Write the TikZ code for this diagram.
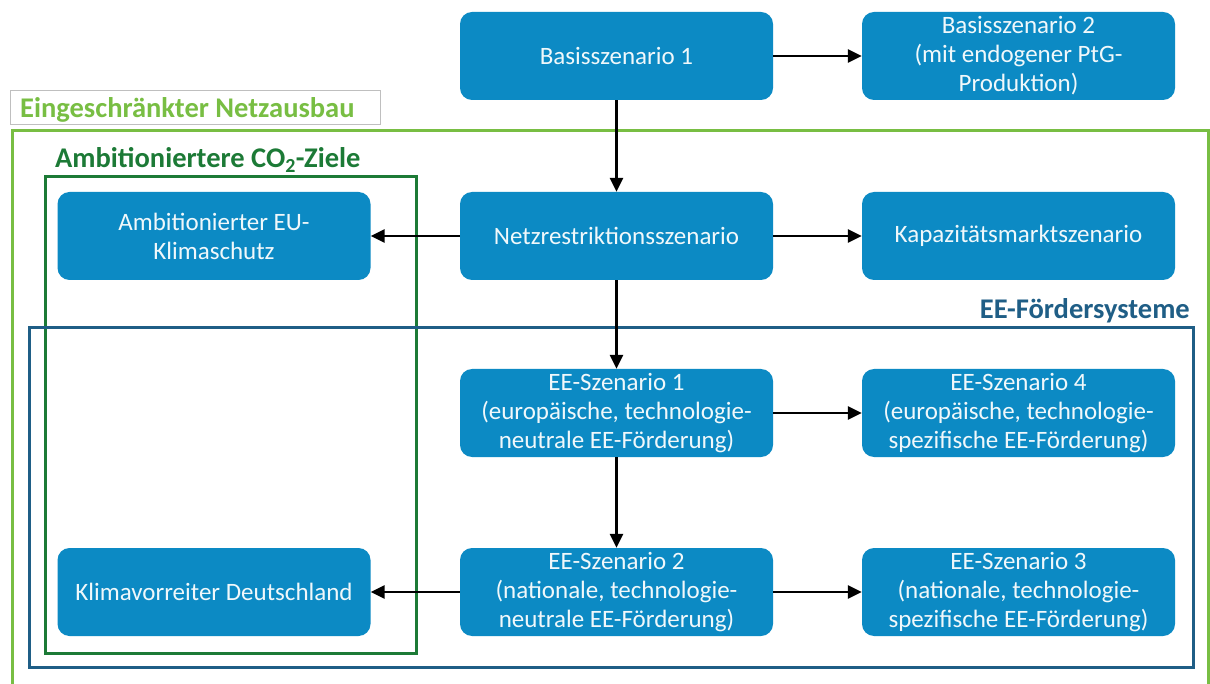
\documentclass[tikz,border=0pt]{standalone}
\usepackage{fontspec}
\setmainfont{Carlito}
\usetikzlibrary{arrows.meta}
\definecolor{boxblue}{RGB}{12,138,196}
\definecolor{frameblue}{RGB}{31,94,134}
\definecolor{darkgreen}{RGB}{28,122,54}
\definecolor{lightgreen}{RGB}{120,190,67}
\tikzset{
  szenario/.style={draw=none, fill=boxblue, rounded corners=12pt, text=white!94!boxblue,
    minimum width=313pt, minimum height=88pt, align=center,
    font=\fontsize{25}{29}\selectfont},
  pfeil/.style={-{Triangle[length=14pt,width=13pt]}, line width=2.5pt, black},
  rahmen/.style={line width=3pt},
  titel/.style={font=\fontsize{28.5}{32}\selectfont\bfseries, inner sep=0pt}
}
\begin{document}
\begin{tikzpicture}[x=1pt, y=-1pt]
\useasboundingbox (0,0) rectangle (1210,684);
\fill[white] (0,0) rectangle (1210,684);

\node[draw=black!25, line width=1pt, minimum width=370pt, minimum height=34pt] (netzbox) at (195,108) {};
\node[titel, text=lightgreen, anchor=west] (netztitel) at (20,110) {Eingeschränkter Netzausbau};
\draw[rahmen, lightgreen] (12,684) -- (12,131) -- (1208,131) -- (1208,684);

\node[titel, text=darkgreen, anchor=west] (co2titel) at (55,160) {Ambitioniertere CO\textsubscript{2}-Ziele};
\draw[rahmen, darkgreen] (45,177) rectangle (416,653);

\node[titel, text=frameblue, anchor=east] (eetitel) at (1190,311) {EE-Fördersysteme};
\draw[rahmen, frameblue] (29,328) rectangle (1193,667);

\node[szenario] (basis1) at (616.5,56) {Basisszenario 1};
\node[szenario] (basis2) at (1018.5,56) {Basisszenario 2\\(mit endogener PtG-\\Produktion)};
\node[szenario] (netz) at (616.5,236) {Netzrestriktionsszenario};
\node[szenario] (kapa) at (1018.5,236) {Kapazitätsmarktszenario};
\node[szenario] (klima) at (214,236) {Ambitionierter EU-\\Klimaschutz};
\node[szenario] (ee1) at (616.5,413) {EE-Szenario 1\\(europäische, technologie-\\neutrale EE-Förderung)};
\node[szenario] (ee4) at (1018.5,413) {EE-Szenario 4\\(europäische, technologie-\\spezifische EE-Förderung)};
\node[szenario] (ee2) at (616.5,592) {EE-Szenario 2\\(nationale, technologie-\\neutrale EE-Förderung)};
\node[szenario] (ee3) at (1018.5,592) {EE-Szenario 3\\(nationale, technologie-\\spezifische EE-Förderung)};
\node[szenario] (vorreiter) at (214,592) {Klimavorreiter Deutschland};

\draw[pfeil] (basis1) -- (basis2);
\draw[pfeil] (basis1) -- (netz);
\draw[pfeil] (netz) -- (klima);
\draw[pfeil] (netz) -- (kapa);
\draw[pfeil] (netz) -- (ee1);
\draw[pfeil] (ee1) -- (ee4);
\draw[pfeil] (ee1) -- (ee2);
\draw[pfeil] (ee2) -- (vorreiter);
\draw[pfeil] (ee2) -- (ee3);
\end{tikzpicture}
\end{document}
